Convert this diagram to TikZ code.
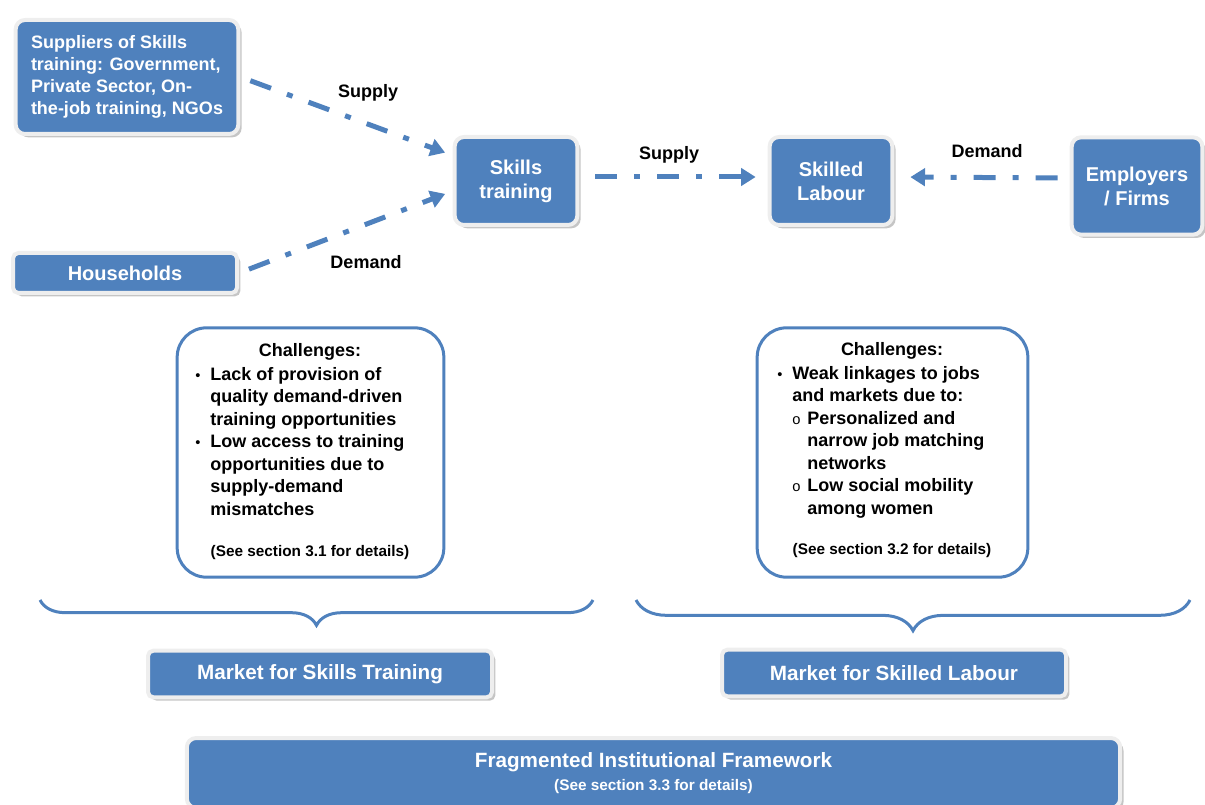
\documentclass[tikz,border=0pt]{standalone}
\usepackage{fontspec}
\setmainfont{Liberation Sans}
\usetikzlibrary{arrows.meta,shadows,decorations.pathreplacing}
\definecolor{boxblue}{RGB}{79,129,189}
\definecolor{framegray}{RGB}{238,238,238}
\newcommand{\blt}{\makebox[11.25pt][l]{\mdseries\fontsize{11}{11}\selectfont\textbullet}}
\newcommand{\sbl}{\makebox[11.25pt][l]{\mdseries\fontsize{11}{11}\selectfont o}}
\newcommand{\ind}{\hspace*{11.25pt}}
\tikzset{
	bluebox/.style={rectangle, rounded corners=7pt, fill=boxblue, draw=framegray, line width=3pt,
		text=white, align=center, font=\fontsize{15}{18}\selectfont\bfseries,
		drop shadow={shadow xshift=2.5pt, shadow yshift=-2.5pt, fill=black!45, opacity=0.5}},
	flow/.style={boxblue, line width=3.75pt, dash pattern=on 16.5pt off 12.75pt on 4.5pt off 12.75pt,
		-{Triangle[length=11pt,width=13pt]}},
	flowlabel/.style={font=\fontsize{13.5}{16}\selectfont\bfseries},
	challbox/.style={rectangle, rounded corners=22pt, draw=boxblue, line width=2.25pt, fill=white},
	challtext/.style={align=left, inner sep=0pt, font=\fontsize{13.5}{16.9}\selectfont\bfseries},
	notetext/.style={font=\fontsize{11.5}{14}\selectfont\bfseries},
	bracket/.style={boxblue, line width=2.25pt, decorate, decoration={brace, mirror, amplitude=#1}}
}
\begin{document}
\begin{tikzpicture}[x=0.75pt, y=-0.75pt]
	\useasboundingbox (0,0) rectangle (1205,805);

	% actors and markets
	\node [bluebox, align=left, font=\fontsize{13.5}{16.5}\selectfont\bfseries,
		minimum width=167pt, minimum height=85.5pt] (suppliers) at (127,77)
		{Suppliers of Skills\\training: Government,\\Private Sector, On-\\the-job training, NGOs};
	\node [bluebox, rounded corners=4pt, minimum width=168pt, minimum height=30pt] (households) at (125,273) {Households};
	\node [bluebox, minimum width=92pt, minimum height=66pt] (skills) at (516,181) {Skills\\training};
	\node [bluebox, minimum width=92pt, minimum height=66pt] (skilled) at (831,181) {Skilled\\Labour};
	\node [bluebox, minimum width=98pt, minimum height=73pt] (employers) at (1137,186) {Employers\\/ Firms};

	\draw [flow, shorten <=8pt, shorten >=6pt] (suppliers.east) -- (skills.158);
	\draw [flow, shorten <=8pt, shorten >=6pt] (households.east) -- (skills.189);
	\draw [flow, shorten <=12pt, shorten >=9pt] ([yshift=3pt]skills.east) -- ([yshift=3pt]skilled.west);
	\draw [flow, shorten <=9pt, shorten >=12pt] ([yshift=6pt]employers.west) -- ([yshift=3pt]skilled.east);

	\node [flowlabel] (supplyA) at (368,93) {Supply};
	\node [flowlabel] (demandA) at (366,262) {Demand};
	\node [flowlabel] (supplyB) at (669,155) {Supply};
	\node [flowlabel] (demandB) at (987,151) {Demand};

	% challenges
	\node [challbox, minimum width=200pt, minimum height=187pt] (challL) at (310.5,452.5) {};
	\node [challtext] (titleL) at (310,352) {Challenges:};
	\node [challtext, anchor=north west] (listL) at (195,367)
		{\blt Lack of provision of\\\ind quality demand-driven\\\ind training opportunities\\
		 \blt Low access to training\\\ind opportunities due to\\\ind supply-demand\\\ind mismatches};
	\node [notetext] (noteL) at (310,553) {(See section 3.1 for details)};

	\node [challbox, minimum width=203pt, minimum height=187pt] (challR) at (892.5,452.5) {};
	\node [challtext] (titleR) at (892,351) {Challenges:};
	\node [challtext, anchor=north west] (listR) at (777,366)
		{\blt Weak linkages to jobs\\\ind and markets due to:\\\ind\sbl Personalized and\\
		 \ind\ind narrow job matching\\\ind\ind networks\\\ind\sbl Low social mobility\\\ind\ind among women};
	\node [notetext] (noteR) at (892,551) {(See section 3.2 for details)};

	% braces
	\coordinate (braceLa) at (40,600);
	\coordinate (braceLb) at (593,600);
	\coordinate (braceRa) at (636,600);
	\coordinate (braceRb) at (1190,600);
	\draw [bracket=19pt] (braceLa) -- (braceLb);
	\draw [bracket=23pt] (braceRa) -- (braceRb);

	\node [bluebox, rounded corners=4pt, font=\fontsize{15.5}{18}\selectfont\bfseries,
		minimum width=258pt, minimum height=35pt] (marketT) at (320,674) {Market for Skills Training};
	\node [bluebox, rounded corners=4pt, font=\fontsize{15.5}{18}\selectfont\bfseries,
		minimum width=258pt, minimum height=35pt] (marketL) at (894,673) {Market for Skilled Labour};
	\node [bluebox, font=\fontsize{15.5}{17}\selectfont\bfseries,
		minimum width=700pt, minimum height=52.5pt] (framework) at (653.5,773)
		{Fragmented Institutional Framework\\{\fontsize{11.5}{13}\selectfont(See section 3.3 for details)}};
\end{tikzpicture}
\end{document}
